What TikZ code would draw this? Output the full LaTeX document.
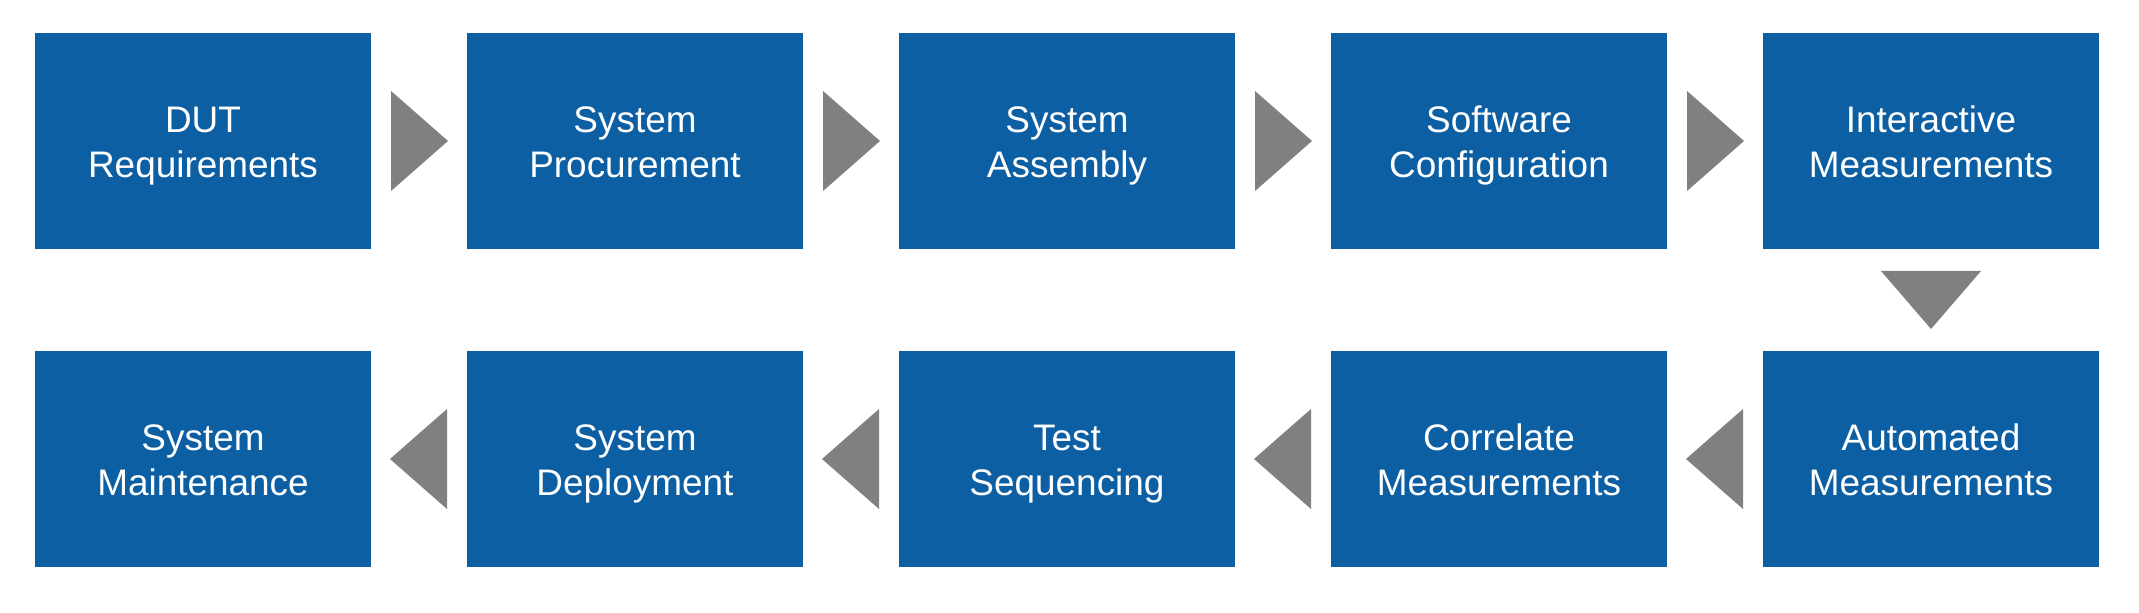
\documentclass[tikz,border=0pt]{standalone}
\usepackage{fontspec}
\setmainfont{Liberation Sans}
\usetikzlibrary{calc,positioning}
\definecolor{flowBlue}{HTML}{0D5FA3}
\definecolor{flowGrey}{HTML}{808080}
\newcommand{\linestrut}{\rule[-2.3pt]{0pt}{12.3pt}}
\tikzset{
  stepbox/.style={
    fill=flowBlue, text=white, minimum width=3.36cm, minimum height=2.16cm,
    inner sep=0pt, align=center, font=\fontsize{10.5}{12.8}\selectfont
  },
  chevron/.style={fill=flowGrey}
}

\begin{document}
\begin{tikzpicture}[x=0.01cm,y=0.01cm]
  \path[use as bounding box] (0,0) rectangle (2139,612);
  % top row, left to right
  \foreach \i/\la/\lb in {
    0/DUT/Requirements,
    1/System/Procurement,
    2/System/Assembly,
    3/Software/Configuration,
    4/Interactive/Measurements}{
    \node[stepbox] (top\i) at (203+\i*432,471) {\linestrut\la\\\linestrut\lb};
  }
  % bottom row, left to right
  \foreach \i/\la/\lb in {
    0/System/Maintenance,
    1/System/Deployment,
    2/Test/Sequencing,
    3/Correlate/Measurements,
    4/Automated/Measurements}{
    \node[stepbox] (bot\i) at (203+\i*432,153) {\linestrut\la\\\linestrut\lb};
  }
  % arrows between the steps
  \foreach \i [count=\j from 1] in {0,...,3}{
    \coordinate (gt\i) at ($(top\i.east)!0.5!(top\j.west)$);
    \fill[chevron] ($(gt\i)+(-28,50)$) -- ($(gt\i)+(29,0)$) -- ($(gt\i)+(-28,-50)$) -- cycle;
    \coordinate (gb\i) at ($(bot\i.east)!0.5!(bot\j.west)$);
    \fill[chevron] ($(gb\i)+(28,50)$) -- ($(gb\i)+(-29,0)$) -- ($(gb\i)+(28,-50)$) -- cycle;
  }
  \coordinate (gd) at ($(top4.south)!0.5!(bot4.north)$);
  \fill[chevron] ($(gd)+(-50,29)$) -- ($(gd)+(0,-29)$) -- ($(gd)+(50,29)$) -- cycle;
\end{tikzpicture}
\end{document}
